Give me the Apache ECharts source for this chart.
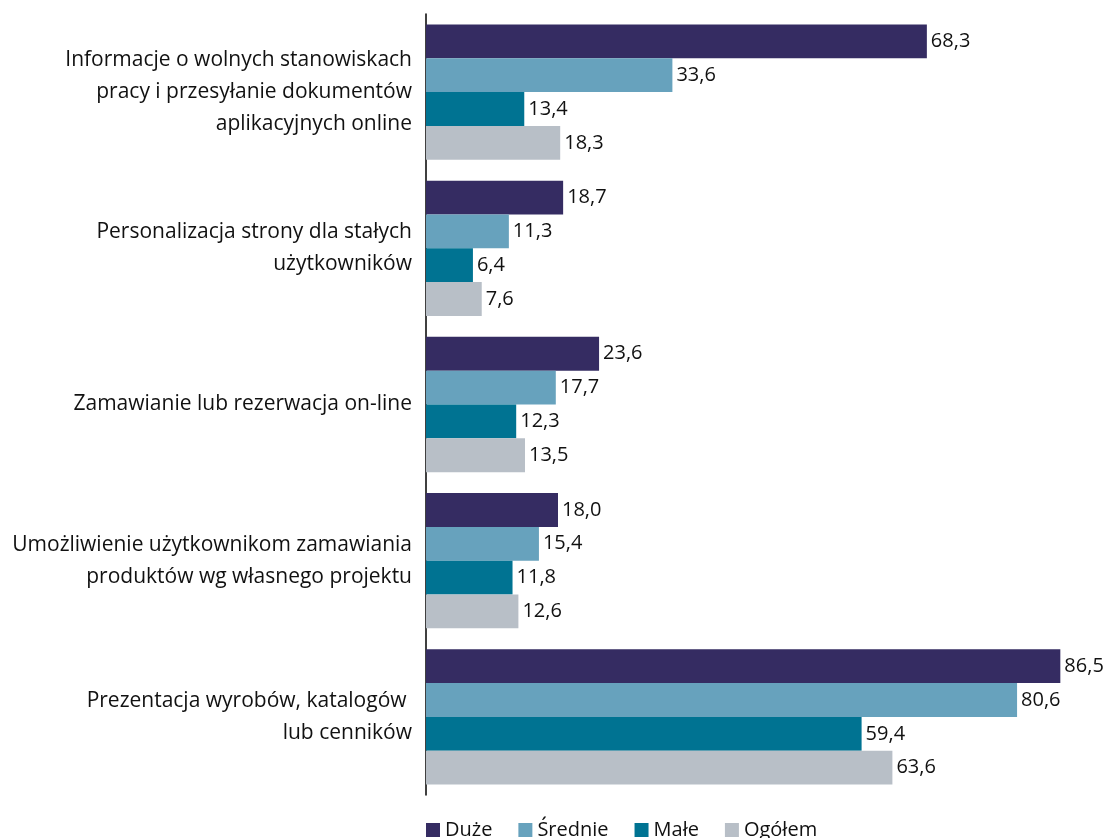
<!DOCTYPE html>
<html>
<head>
<meta charset="utf-8">
<script src="https://cdn.jsdelivr.net/npm/echarts@6/dist/echarts.min.js"></script>
<style>
  html, body { margin: 0; padding: 0; background: #ffffff; }
  #chart { width: 1107px; height: 838px; }
</style>
</head>
<body>
<div id="chart"></div>
<script>
// Categories (top to bottom)
const categories = [
  'Informacje o wolnych stanowiskach\npracy i przesyłanie dokumentów\naplikacyjnych online',
  'Personalizacja strony dla stałych\nużytkowników',
  'Zamawianie lub rezerwacja on-line',
  'Umożliwienie użytkownikom zamawiania\nproduktów wg własnego projektu',
  'Prezentacja wyrobów, katalogów \nlub cenników'
];

// Series values (%)
const duze    = [68.3, 18.7, 23.6, 18.0, 86.5];
const srednie = [33.6, 11.3, 17.7, 15.4, 80.6];
const male    = [13.4,  6.4, 12.3, 11.8, 59.4];
const ogolem  = [18.3,  7.6, 13.5, 12.6, 63.6];

const seriesNames = ['Duże', 'Średnie', 'Małe', 'Ogółem'];
const seriesData = [duze, srednie, male, ogolem];
const colors = ['#352c62', '#67a2bd', '#007392', '#b8bfc7'];

const FONT = 'Open Sans';

const chart = echarts.init(document.getElementById('chart'), null, { renderer: 'canvas' });

chart.setOption({
  animation: false,
  backgroundColor: '#ffffff',
  textStyle: { fontFamily: FONT },
  grid: { left: 426, top: 14, width: 660, height: 781, containLabel: false },
  legend: {
    top: 815,
    left: 421,
    itemWidth: 14,
    itemHeight: 14,
    itemGap: 26,
    icon: 'rect',
    textStyle: { fontFamily: FONT, fontSize: 20, color: '#111111', padding: [0, 0, 0, 0] },
    data: seriesNames
  },
  xAxis: {
    type: 'value',
    min: 0,
    max: 90,
    show: false
  },
  yAxis: {
    type: 'category',
    inverse: true,
    data: categories,
    axisLine: { show: true, lineStyle: { color: '#000000', width: 1.5 } },
    axisTick: { show: false },
    axisLabel: {
      margin: 14,
      align: 'right',
      fontFamily: FONT,
      fontSize: 21,
      lineHeight: 32,
      padding: [5, 0, 0, 0],
      color: '#111111'
    }
  },
  series: seriesData.map((vals, i) => ({
    name: seriesNames[i],
    type: 'bar',
    data: vals,
    barGap: '0%',
    barCategoryGap: '13.4%',
    itemStyle: { color: colors[i] },
    label: {
      show: true,
      position: 'right',
      distance: 4,
      fontFamily: FONT,
      fontSize: 20,
      color: '#111111',
      formatter: p => p.value.toFixed(1).replace('.', ',')
    }
  }))
});
</script>
</body>
</html>
